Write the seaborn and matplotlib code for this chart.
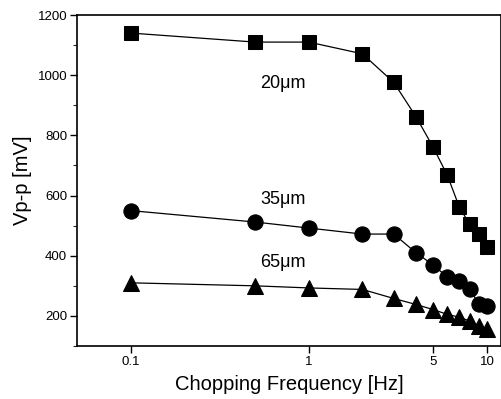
import matplotlib
matplotlib.use("Agg")
import matplotlib.pyplot as plt
import seaborn as sns
import pandas as pd
from matplotlib.ticker import FixedLocator, NullLocator, MultipleLocator

# Chopping frequencies (Hz)
freq = [0.1, 0.5, 1, 2, 3, 4, 5, 6, 7, 8, 9, 10]

# Peak-to-peak voltage (mV) for each gap size
vpp_20um = [1140, 1110, 1110, 1071, 976, 862, 760, 667, 562, 505, 472, 430]
vpp_35um = [550, 512, 492, 472, 472, 410, 369, 329, 315, 290, 240, 232]
vpp_65um = [310, 300, 293, 288, 258, 238, 221, 205, 196, 183, 168, 158]

series_labels = ["20\u03bcm", "35\u03bcm", "65\u03bcm"]

sns.set_theme(style="ticks")
plt.rcParams["font.family"] = ["Liberation Sans", "DejaVu Sans"]
plt.rcParams["text.color"] = "black"

fig = plt.figure(figsize=(5.02, 3.99), dpi=100)
ax = fig.add_axes([0.1534, 0.1328, 0.8446, 0.8296])

df = pd.DataFrame({"freq": freq, "a": vpp_20um, "b": vpp_35um, "c": vpp_65um})

sns.lineplot(data=df, x="freq", y="a", ax=ax, color="black", lw=0.9,
             marker="s", markersize=10, markeredgecolor="black")
sns.lineplot(data=df, x="freq", y="b", ax=ax, color="black", lw=0.9,
             marker="o", markersize=11, markeredgecolor="black")
sns.lineplot(data=df, x="freq", y="c", ax=ax, color="black", lw=0.9,
             marker="^", markersize=11, markeredgecolor="black")

ax.set_xscale("log")
ax.set_xlim(0.05, 12)
ax.set_ylim(100, 1200)
ax.xaxis.set_major_locator(FixedLocator([0.1, 1, 5, 10]))
ax.xaxis.set_minor_locator(NullLocator())
ax.set_xticklabels(["0.1", "1", "5", "10"])
ax.yaxis.set_major_locator(FixedLocator([200, 400, 600, 800, 1000, 1200]))
ax.yaxis.set_minor_locator(MultipleLocator(100))

ax.tick_params(axis="both", which="major", direction="out", length=5, width=1,
               labelsize=9.5, colors="black", pad=2)
ax.tick_params(axis="y", which="minor", direction="out", length=3, width=0.8)
for s in ax.spines.values():
    s.set_color("black")
    s.set_linewidth(1.2)

ax.set_xlabel("Chopping Frequency [Hz]", fontsize=14.5, color="black", labelpad=5)
ax.set_ylabel("Vp-p [mV]", fontsize=14.5, color="black", labelpad=4)

# Gap-size annotations beside each curve
ax.text(0.72, 972, series_labels[0], fontsize=13, color="black", ha="center", va="center")
ax.text(0.72, 588, series_labels[1], fontsize=13, color="black", ha="center", va="center")
ax.text(0.72, 376, series_labels[2], fontsize=13, color="black", ha="center", va="center")

fig.savefig("out.png", dpi=100)
